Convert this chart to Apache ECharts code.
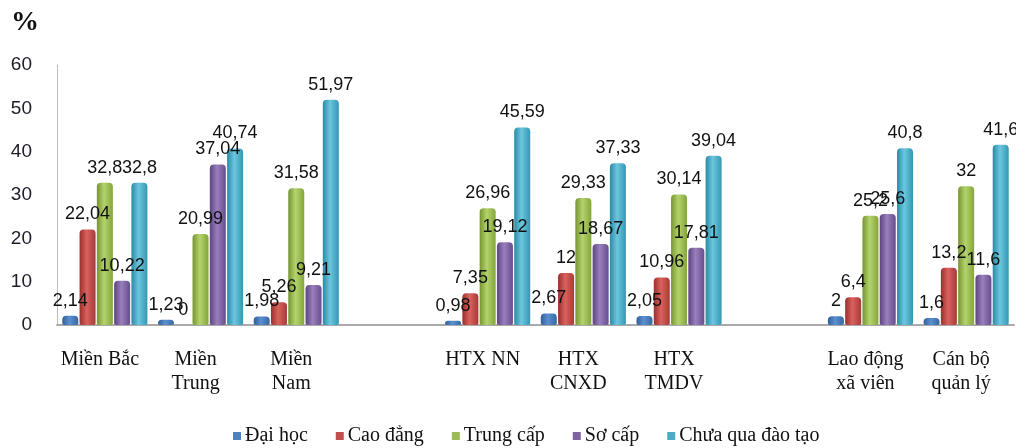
<!DOCTYPE html>
<html><head><meta charset="utf-8">
<script src="https://cdn.jsdelivr.net/npm/echarts@6/dist/echarts.min.js"></script>
<style>html,body{margin:0;padding:0;background:#fff}#c{width:1016px;height:448px}</style>
</head><body><div id="c"></div>
<script>
const categories = ['Miền Bắc','Miền\nTrung','Miền\nNam','','HTX NN','HTX\nCNXD','HTX\nTMDV','','Lao động\nxã viên','Cán bộ\nquản lý'];
const seriesNames = ['Đại học','Cao đẳng','Trung cấp','Sơ cấp','Chưa qua đào tạo'];
const daiHoc   = [2.14, 1.23, 1.98, '-', 0.98, 2.67, 2.05, '-', 2, 1.6];
const caoDang  = [22.04, 0, 5.26, '-', 7.35, 12, 10.96, '-', 6.4, 13.2];
const trungCap = [32.8, 20.99, 31.58, '-', 26.96, 29.33, 30.14, '-', 25.2, 32];
const soCap    = [10.22, 37.04, 9.21, '-', 19.12, 18.67, 17.81, '-', 25.6, 11.6];
const chuaQua  = [32.8, 40.74, 51.97, '-', 45.59, 37.33, 39.04, '-', 40.8, 41.6];
const yTicks = [0, 10, 20, 30, 40, 50, 60];

const colors = [
  ['#2f5f99','#5b8fd0','#35679f'],
  ['#9a2f2c','#d9625e','#a63a37'],
  ['#76952f','#b4d36e','#84a53a'],
  ['#5c4480','#9a7fbd','#684d8d'],
  ['#2a8aa5','#6cc6de','#3398b3']
];
const flat = ['#4F81BD','#C0504D','#9BBB59','#8064A2','#4BACC6'];
function grad(c){
  return new echarts.graphic.LinearGradient(0,0,1,0,[
    {offset:0,color:c[0]},{offset:0.45,color:c[1]},{offset:1,color:c[2]}]);
}
const values = [daiHoc, caoDang, trungCap, soCap, chuaQua];
const chart = echarts.init(document.getElementById('c'));
chart.setOption({
  animation:false,
  color:flat,
  title:{text:'%',left:6,top:4,textStyle:{fontFamily:'Liberation Serif',fontWeight:'bold',fontSize:28,color:'#111'}},
  grid:{left:57,right:2,top:65,bottom:123},
  legend:{top:421,left:228,itemWidth:8,itemHeight:8,itemGap:28,icon:'rect',
    textStyle:{fontFamily:'Liberation Serif',fontSize:20,color:'#111',padding:[0,0,0,-1]},
    data:seriesNames.map((n,i)=>({name:n,itemStyle:{color:flat[i]}}))},
  xAxis:{type:'category',data:categories,
    axisLine:{lineStyle:{color:'#aaa',width:2}},axisTick:{show:false},
    axisLabel:{interval:0,margin:23,fontFamily:'Liberation Serif',fontSize:20,color:'#111',lineHeight:24,verticalAlign:'top',padding:[0,10,0,0]}},
  yAxis:{type:'value',min:0,max:60,interval:10,
    axisLine:{show:true,lineStyle:{color:'#bbb'}},axisTick:{show:false},splitLine:{show:false},
    axisLabel:{margin:25,fontFamily:'Liberation Sans',fontSize:19,color:'#1c1c2a'}},
  series: seriesNames.map((n,i)=>({
    name:n,type:'bar',data:values[i],barWidth:16,barGap:'8%',
    itemStyle:{color:grad(colors[i]),borderRadius:[4,4,2,2]},
    label:{show:true,position:'top',distance:6,fontFamily:'Liberation Sans',fontSize:18,color:'#111',
      formatter:p=>String(p.value).replace('.',',')}
  }))
});
</script></body></html>
